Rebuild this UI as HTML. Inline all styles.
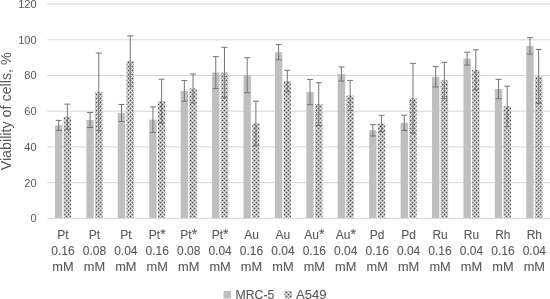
<!DOCTYPE html>
<html><head><meta charset="utf-8"><style>
html,body{margin:0;padding:0;background:#fff;}
svg{display:block;will-change:transform;}
text{font-family:"Liberation Sans",sans-serif;fill:#595959;}
.yl{font-size:11px;stroke-width:0;}
.xl{font-size:12px;text-anchor:middle;}
.tt{font-size:14.3px;stroke-width:0;}
.lg{font-size:12px;}
.ast{font-size:14px;}
text{stroke:#595959;stroke-width:0.1px;}
</style></head><body>
<svg width="550" height="299" viewBox="0 0 550 299">
<defs>
<pattern id="pat" width="4" height="4" patternUnits="userSpaceOnUse" shape-rendering="crispEdges"><rect x="0" y="0" width="1" height="1" fill="#ffffff"/><rect x="1" y="0" width="1" height="1" fill="#acacac"/><rect x="2" y="0" width="1" height="1" fill="#585858"/><rect x="3" y="0" width="1" height="1" fill="#acacac"/><rect x="0" y="1" width="1" height="1" fill="#acacac"/><rect x="1" y="1" width="1" height="1" fill="#d4d4d4"/><rect x="2" y="1" width="1" height="1" fill="#acacac"/><rect x="3" y="1" width="1" height="1" fill="#d4d4d4"/><rect x="0" y="2" width="1" height="1" fill="#585858"/><rect x="1" y="2" width="1" height="1" fill="#acacac"/><rect x="2" y="2" width="1" height="1" fill="#ffffff"/><rect x="3" y="2" width="1" height="1" fill="#acacac"/><rect x="0" y="3" width="1" height="1" fill="#acacac"/><rect x="1" y="3" width="1" height="1" fill="#d4d4d4"/><rect x="2" y="3" width="1" height="1" fill="#acacac"/><rect x="3" y="3" width="1" height="1" fill="#d4d4d4"/></pattern>
</defs>
<rect width="550" height="299" fill="#fff"/>
<line x1="47.3" x2="550" y1="182.64" y2="182.64" stroke="#d6d6d6" stroke-width="1"/><line x1="47.3" x2="550" y1="146.93" y2="146.93" stroke="#d6d6d6" stroke-width="1"/><line x1="47.3" x2="550" y1="111.23" y2="111.23" stroke="#d6d6d6" stroke-width="1"/><line x1="47.3" x2="550" y1="75.52" y2="75.52" stroke="#d6d6d6" stroke-width="1"/><line x1="47.3" x2="550" y1="39.81" y2="39.81" stroke="#d6d6d6" stroke-width="1"/><line x1="47.3" x2="550" y1="4.10" y2="4.10" stroke="#d6d6d6" stroke-width="1"/><text x="36.6" y="222.25" text-anchor="end" class="yl">0</text><text x="36.6" y="186.54" text-anchor="end" class="yl">20</text><text x="36.6" y="150.83" text-anchor="end" class="yl">40</text><text x="36.6" y="115.13" text-anchor="end" class="yl">60</text><text x="36.6" y="79.42" text-anchor="end" class="yl">80</text><text x="36.6" y="43.71" text-anchor="end" class="yl">100</text><text x="36.6" y="8.00" text-anchor="end" class="yl">120</text>
<rect x="54.96" y="125.40" width="7.4" height="92.95" fill="#bfbfbf"/><rect x="63.66" y="116.70" width="7.4" height="101.65" fill="url(#pat)"/><rect x="86.38" y="120.00" width="7.4" height="98.35" fill="#bfbfbf"/><rect x="95.08" y="91.80" width="7.4" height="126.55" fill="url(#pat)"/><rect x="117.80" y="113.00" width="7.4" height="105.35" fill="#bfbfbf"/><rect x="126.50" y="61.10" width="7.4" height="157.25" fill="url(#pat)"/><rect x="149.22" y="119.70" width="7.4" height="98.65" fill="#bfbfbf"/><rect x="157.92" y="101.20" width="7.4" height="117.15" fill="url(#pat)"/><rect x="180.64" y="90.90" width="7.4" height="127.45" fill="#bfbfbf"/><rect x="189.34" y="88.50" width="7.4" height="129.85" fill="url(#pat)"/><rect x="212.06" y="72.60" width="7.4" height="145.75" fill="#bfbfbf"/><rect x="220.76" y="72.60" width="7.4" height="145.75" fill="url(#pat)"/><rect x="243.48" y="75.20" width="7.4" height="143.15" fill="#bfbfbf"/><rect x="252.18" y="123.50" width="7.4" height="94.85" fill="url(#pat)"/><rect x="274.90" y="52.20" width="7.4" height="166.15" fill="#bfbfbf"/><rect x="283.60" y="81.10" width="7.4" height="137.25" fill="url(#pat)"/><rect x="306.32" y="92.10" width="7.4" height="126.25" fill="#bfbfbf"/><rect x="315.02" y="104.10" width="7.4" height="114.25" fill="url(#pat)"/><rect x="337.74" y="74.00" width="7.4" height="144.35" fill="#bfbfbf"/><rect x="346.44" y="95.50" width="7.4" height="122.85" fill="url(#pat)"/><rect x="369.16" y="130.30" width="7.4" height="88.05" fill="#bfbfbf"/><rect x="377.86" y="123.50" width="7.4" height="94.85" fill="url(#pat)"/><rect x="400.58" y="122.80" width="7.4" height="95.55" fill="#bfbfbf"/><rect x="409.28" y="98.20" width="7.4" height="120.15" fill="url(#pat)"/><rect x="432.00" y="76.80" width="7.4" height="141.55" fill="#bfbfbf"/><rect x="440.70" y="80.40" width="7.4" height="137.95" fill="url(#pat)"/><rect x="463.42" y="58.60" width="7.4" height="159.75" fill="#bfbfbf"/><rect x="472.12" y="69.80" width="7.4" height="148.55" fill="url(#pat)"/><rect x="494.84" y="89.00" width="7.4" height="129.35" fill="#bfbfbf"/><rect x="503.54" y="106.40" width="7.4" height="111.95" fill="url(#pat)"/><rect x="526.26" y="45.90" width="7.4" height="172.45" fill="#bfbfbf"/><rect x="534.96" y="76.40" width="7.4" height="141.95" fill="url(#pat)"/>
<line x1="47.3" x2="550" y1="218.35" y2="218.35" stroke="#d6d6d6" stroke-width="1"/>
<g stroke="#747474" stroke-width="1" fill="none"><path d="M58.66 120.40V130.40M55.66 120.40H61.66M55.66 130.40H61.66"/><path d="M67.36 104.10V129.30M64.36 104.10H70.36M64.36 129.30H70.36"/><path d="M90.08 112.50V127.50M87.08 112.50H93.08M87.08 127.50H93.08"/><path d="M98.78 53.00V130.60M95.78 53.00H101.78M95.78 130.60H101.78"/><path d="M121.50 104.45V121.55M118.50 104.45H124.50M118.50 121.55H124.50"/><path d="M130.20 35.90V86.30M127.20 35.90H133.20M127.20 86.30H133.20"/><path d="M152.92 106.95V132.45M149.92 106.95H155.92M149.92 132.45H155.92"/><path d="M161.62 79.20V123.20M158.62 79.20H164.62M158.62 123.20H164.62"/><path d="M184.34 80.60V101.20M181.34 80.60H187.34M181.34 101.20H187.34"/><path d="M193.04 74.00V103.00M190.04 74.00H196.04M190.04 103.00H196.04"/><path d="M215.76 56.65V88.55M212.76 56.65H218.76M212.76 88.55H218.76"/><path d="M224.46 47.30V97.90M221.46 47.30H227.46M221.46 97.90H227.46"/><path d="M247.18 57.75V92.65M244.18 57.75H250.18M244.18 92.65H250.18"/><path d="M255.88 101.20V145.80M252.88 101.20H258.88M252.88 145.80H258.88"/><path d="M278.60 44.60V59.80M275.60 44.60H281.60M275.60 59.80H281.60"/><path d="M287.30 70.30V91.90M284.30 70.30H290.30M284.30 91.90H290.30"/><path d="M310.02 79.45V104.75M307.02 79.45H313.02M307.02 104.75H313.02"/><path d="M318.72 82.70V125.50M315.72 82.70H321.72M315.72 125.50H321.72"/><path d="M341.44 66.95V81.05M338.44 66.95H344.44M338.44 81.05H344.44"/><path d="M350.14 80.40V110.60M347.14 80.40H353.14M347.14 110.60H353.14"/><path d="M372.86 124.65V135.95M369.86 124.65H375.86M369.86 135.95H375.86"/><path d="M381.56 115.30V131.70M378.56 115.30H384.56M378.56 131.70H384.56"/><path d="M404.28 115.20V130.40M401.28 115.20H407.28M401.28 130.40H407.28"/><path d="M412.98 63.30V133.10M409.98 63.30H415.98M409.98 133.10H415.98"/><path d="M435.70 66.60V87.00M432.70 66.60H438.70M432.70 87.00H438.70"/><path d="M444.40 62.30V98.50M441.40 62.30H447.40M441.40 98.50H447.40"/><path d="M467.12 52.15V65.05M464.12 52.15H470.12M464.12 65.05H470.12"/><path d="M475.82 49.90V89.70M472.82 49.90H478.82M472.82 89.70H478.82"/><path d="M498.54 79.30V98.70M495.54 79.30H501.54M495.54 98.70H501.54"/><path d="M507.24 86.20V126.60M504.24 86.20H510.24M504.24 126.60H510.24"/><path d="M529.96 37.70V54.10M526.96 37.70H532.96M526.96 54.10H532.96"/><path d="M538.66 49.40V103.40M535.66 49.40H541.66M535.66 103.40H541.66"/></g>
<text x="63.01" y="239" class="xl">Pt</text><text x="63.01" y="254.7" class="xl">0.16</text><text x="63.01" y="270.6" class="xl" textLength="21.3" lengthAdjust="spacingAndGlyphs">mM</text><text x="94.43" y="239" class="xl">Pt</text><text x="94.43" y="254.7" class="xl">0.08</text><text x="94.43" y="270.6" class="xl" textLength="21.3" lengthAdjust="spacingAndGlyphs">mM</text><text x="125.85" y="239" class="xl">Pt</text><text x="125.85" y="254.7" class="xl">0.04</text><text x="125.85" y="270.6" class="xl" textLength="21.3" lengthAdjust="spacingAndGlyphs">mM</text><text x="157.27" y="239" class="xl">Pt<tspan class="ast">*</tspan></text><text x="157.27" y="254.7" class="xl">0.16</text><text x="157.27" y="270.6" class="xl" textLength="21.3" lengthAdjust="spacingAndGlyphs">mM</text><text x="188.69" y="239" class="xl">Pt<tspan class="ast">*</tspan></text><text x="188.69" y="254.7" class="xl">0.08</text><text x="188.69" y="270.6" class="xl" textLength="21.3" lengthAdjust="spacingAndGlyphs">mM</text><text x="220.11" y="239" class="xl">Pt<tspan class="ast">*</tspan></text><text x="220.11" y="254.7" class="xl">0.04</text><text x="220.11" y="270.6" class="xl" textLength="21.3" lengthAdjust="spacingAndGlyphs">mM</text><text x="251.53" y="239" class="xl">Au</text><text x="251.53" y="254.7" class="xl">0.16</text><text x="251.53" y="270.6" class="xl" textLength="21.3" lengthAdjust="spacingAndGlyphs">mM</text><text x="282.95" y="239" class="xl">Au</text><text x="282.95" y="254.7" class="xl">0.04</text><text x="282.95" y="270.6" class="xl" textLength="21.3" lengthAdjust="spacingAndGlyphs">mM</text><text x="314.37" y="239" class="xl">Au<tspan class="ast">*</tspan></text><text x="314.37" y="254.7" class="xl">0.16</text><text x="314.37" y="270.6" class="xl" textLength="21.3" lengthAdjust="spacingAndGlyphs">mM</text><text x="345.79" y="239" class="xl">Au<tspan class="ast">*</tspan></text><text x="345.79" y="254.7" class="xl">0.04</text><text x="345.79" y="270.6" class="xl" textLength="21.3" lengthAdjust="spacingAndGlyphs">mM</text><text x="377.21" y="239" class="xl">Pd</text><text x="377.21" y="254.7" class="xl">0.16</text><text x="377.21" y="270.6" class="xl" textLength="21.3" lengthAdjust="spacingAndGlyphs">mM</text><text x="408.63" y="239" class="xl">Pd</text><text x="408.63" y="254.7" class="xl">0.04</text><text x="408.63" y="270.6" class="xl" textLength="21.3" lengthAdjust="spacingAndGlyphs">mM</text><text x="440.05" y="239" class="xl">Ru</text><text x="440.05" y="254.7" class="xl">0.16</text><text x="440.05" y="270.6" class="xl" textLength="21.3" lengthAdjust="spacingAndGlyphs">mM</text><text x="471.47" y="239" class="xl">Ru</text><text x="471.47" y="254.7" class="xl">0.04</text><text x="471.47" y="270.6" class="xl" textLength="21.3" lengthAdjust="spacingAndGlyphs">mM</text><text x="502.89" y="239" class="xl">Rh</text><text x="502.89" y="254.7" class="xl">0.16</text><text x="502.89" y="270.6" class="xl" textLength="21.3" lengthAdjust="spacingAndGlyphs">mM</text><text x="534.31" y="239" class="xl">Rh</text><text x="534.31" y="254.7" class="xl">0.04</text><text x="534.31" y="270.6" class="xl" textLength="21.3" lengthAdjust="spacingAndGlyphs">mM</text>
<text transform="translate(11.2,111.3) rotate(-90)" text-anchor="middle" class="tt">Viability of cells, %</text>
<rect x="223.5" y="291" width="7.5" height="7.5" fill="#bfbfbf"/>
<text x="235.5" y="298.6" class="lg" textLength="38.8" lengthAdjust="spacingAndGlyphs">MRC-5</text>
<rect x="284.5" y="291" width="7.5" height="7.5" fill="url(#pat)"/>
<text x="296" y="298.6" class="lg" textLength="30.6" lengthAdjust="spacingAndGlyphs">A549</text>
</svg>
</body></html>
